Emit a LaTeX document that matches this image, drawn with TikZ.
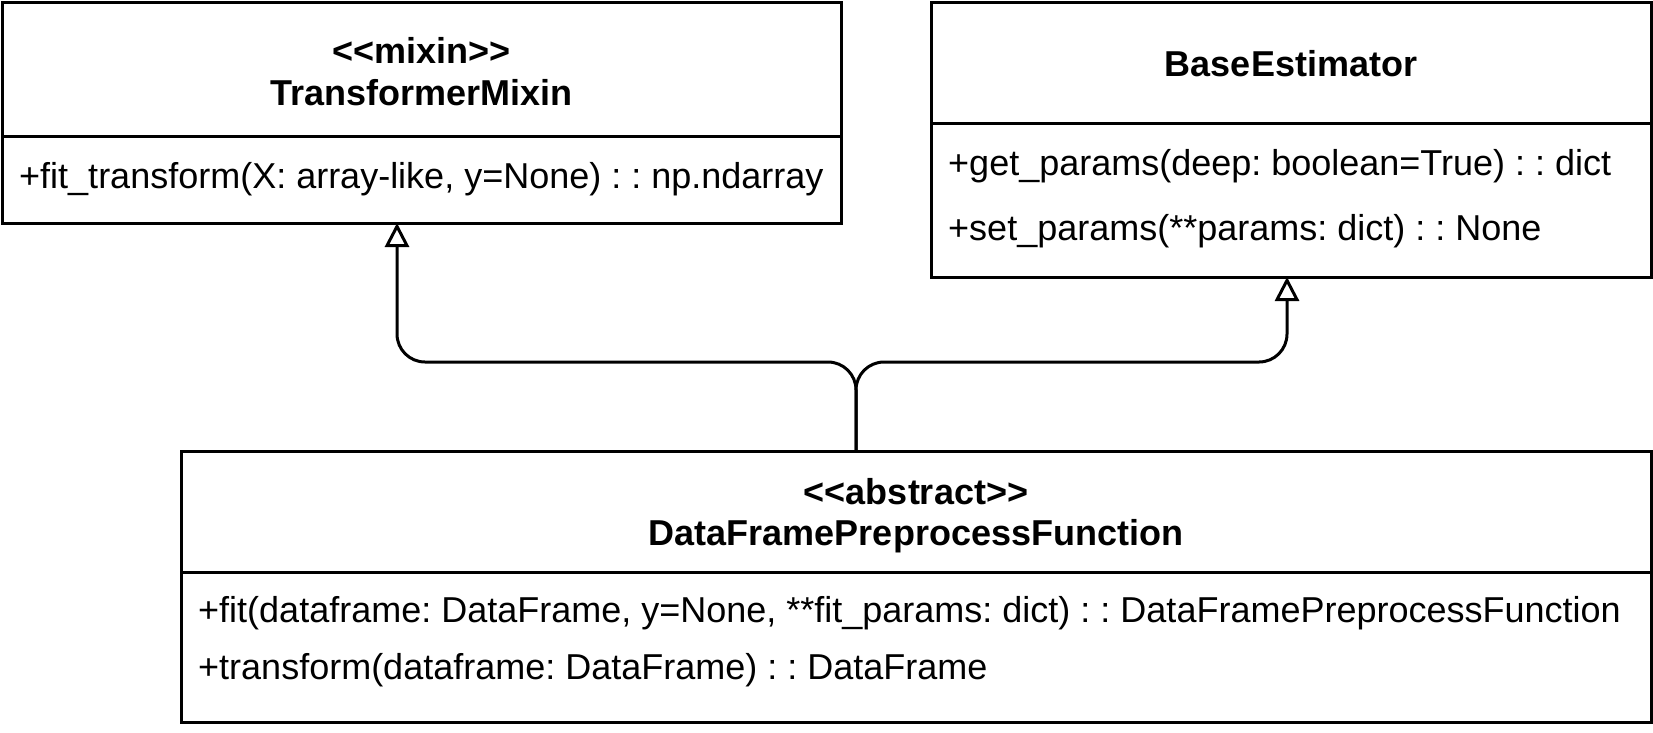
\documentclass[tikz,border=0pt]{standalone}
\usepackage{fontspec}
\setmainfont{Liberation Sans}
\usetikzlibrary{arrows.meta}
\frenchspacing
\tikzset{
  compart/.style={draw, line width=3pt, rectangle, inner sep=0pt, outer sep=0pt, anchor=north west},
  classtitle/.style={font=\bfseries\fontsize{36}{42}\selectfont, anchor=base, inner sep=0pt},
  member/.style={font=\fontsize{36}{42}\selectfont, anchor=base west, inner sep=0pt},
  inherit/.style={line width=3pt, rounded corners=28pt, -{Triangle[width=24pt,length=24pt,fill=white]}}
}
\begin{document}
\begin{tikzpicture}[x=1pt,y=-1pt]
\useasboundingbox (0,0) rectangle (1653,732);
% TransformerMixin
\node[compart, minimum width=839pt, minimum height=134pt] (mixinHead) at (2,2) {};
\node[compart, minimum width=839pt, minimum height=87pt] (mixin) at (mixinHead.south west) {};
\node[classtitle] (mixinSt) at (421.5,63) {<\kern0pt<mixin>\kern0pt>};
\node[classtitle] (mixinName) at (421.5,105) {TransformerMixin};
\node[member] (mixinM1) at (19,188) {+fit\_transform(X: array-like, y=None) : : np.ndarray};
% BaseEstimator
\node[compart, minimum width=720pt, minimum height=121pt] (baseHead) at (931,2) {};
\node[compart, minimum width=720pt, minimum height=154pt] (base) at (baseHead.south west) {};
\node[classtitle] (baseName) at (1291,76) {BaseEstimator};
\node[member] (baseM1) at (948,175) {+get\_params(deep: boolean=True) : : dict};
\node[member] (baseM2) at (948,240) {+set\_params(**params: dict) : : None};
% DataFramePreprocessFunction
\node[compart, minimum width=1470pt, minimum height=121pt] (dfHead) at (181,451) {};
\node[compart, minimum width=1470pt, minimum height=150pt] (df) at (dfHead.south west) {};
\node[classtitle] (dfSt) at (916,504) {<\kern0pt<abstract>\kern0pt>};
\node[classtitle] (dfName) at (916,545) {DataFramePreprocessFunction};
\node[member] (dfM1) at (198,622) {+fit(dataframe: DataFrame, y=None, **fit\_params: dict) : : DataFramePreprocessFunction};
\node[member] (dfM2) at (198,679) {+transform(dataframe: DataFrame) : : DataFrame};
% connector anchor points
\path (dfHead.north west) ++(675,0) coordinate (stem);
\path (mixin.south west) ++(395,0) coordinate (mixinIn);
\path (base.south west) ++(356,0) coordinate (baseIn);
% generalisations
\draw[inherit] (stem) -- (stem |- 0,362) -- (mixinIn |- 0,362) -- (mixinIn);
\draw[inherit] (stem) -- (stem |- 0,362) -- (baseIn |- 0,362) -- (baseIn);
\end{tikzpicture}
\end{document}
